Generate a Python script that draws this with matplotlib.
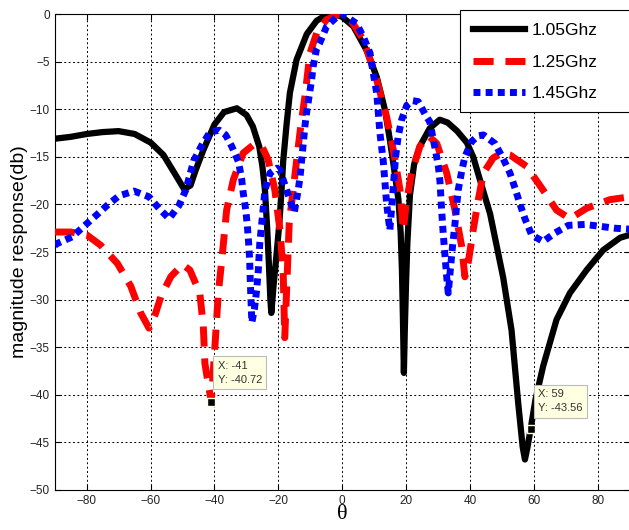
import matplotlib
matplotlib.use("Agg")
import matplotlib.pyplot as plt
from matplotlib.patches import Rectangle

plt.rcParams['font.family'] = ['Liberation Sans', 'DejaVu Sans']

# 1.05 GHz
x105 = [-90, -85, -80, -75, -70, -65, -60, -56, -52, -49.5, -47.5, -46, -43.5, -40, -37, -33, -30, -28,
        -26, -25, -24.2, -23.5, -23, -22.5, -22.2, -21.5, -20.5, -19.7, -19, -18.5, -17.4, -16.4, -14.3,
        -11.1, -8, -5, -2.5, 0, 3.5, 7.6, 10.8, 13.4, 14.9, 16, 17.6, 18.3, 18.7, 19, 19.3, 19.6, 20, 20.4,
        21.2, 22.5, 24.3, 27.4, 30.5, 33, 36, 39, 41, 43.1, 46.3, 50.4, 53, 55.1, 56.5, 57.2, 58, 59, 60.5,
        62.9, 67.1, 71.3, 76.5, 81.7, 87, 90]
y105 = [-13.1, -12.9, -12.6, -12.4, -12.3, -12.6, -13.5, -14.8, -17.0, -18.4, -18.0, -16.5, -14.3, -11.6,
        -10.3, -9.9, -10.6, -11.8, -13.9, -16.0, -18.5, -22.5, -26.0, -30.0, -31.4, -28.5, -25.0, -22.0,
        -18.5, -15.5, -11.5, -8.3, -4.8, -2.1, -0.7, -0.1, 0.0, -0.3, -1.3, -3.8, -6.6, -10.1, -13.2, -15.7,
        -19.5, -23.0, -27.0, -32.0, -37.7, -33.0, -28.0, -24.0, -19.0, -15.8, -13.9, -12.0, -11.1, -11.4,
        -12.3, -13.5, -15.0, -17.4, -21.0, -27.7, -33.2, -40.9, -45.5, -46.8, -45.5, -43.56, -40.5, -37.0,
        -32.1, -29.3, -26.9, -24.8, -23.5, -23.2]

# 1.25 GHz
x125 = [-90, -85, -80, -75.6, -70.4, -66.2, -63.1, -60.5, -58.5, -56.8, -53.7, -50, -47.7, -44.6, -43.5,
        -43, -42, -41, -39.8, -38.8, -37.7, -36.2, -34.1, -31, -27.3, -25, -23.2, -21.1, -19.5, -18.5, -18,
        -17.3, -16.6, -14.5, -13, -11.7, -10.1, -8, -5, -1, 3, 6.6, 10.2, 13.9, 16, 18.1, 19.1, 20, 21.7,
        24.3, 27, 29.6, 32.7, 35.3, 37.4, 38.4, 39.5, 41, 42.6, 44.2, 47.3, 50, 52.5, 57.7, 62.9, 67.1,
        71.3, 76.5, 83.8, 90]
y125 = [-22.9, -22.9, -23.2, -24.3, -26.2, -28.6, -31.4, -33.0, -31.5, -29.7, -27.6, -26.3, -26.9, -29.3,
        -32.8, -36.7, -38.8, -40.72, -34.6, -29.3, -25.8, -20.6, -17.4, -14.6, -13.6, -14.0, -15.3, -18.5,
        -22.7, -27.0, -34.0, -28.0, -22.0, -16.0, -11.8, -8.7, -4.1, -2.0, -0.6, 0.0, -0.8, -2.7, -6.2,
        -10.8, -14.3, -18.5, -22.7, -20.0, -16.7, -13.9, -12.8, -13.6, -16.7, -20.6, -24.4, -27.6, -26.0,
        -22.7, -19.5, -16.7, -15.1, -14.6, -14.8, -16.0, -18.5, -20.6, -21.5, -20.4, -19.5, -19.2]

# 1.45 GHz
x145 = [-90, -89.2, -84.5, -80.9, -77.2, -73.6, -69.9, -65.2, -60.5, -57.4, -54.2, -51.1, -49, -46.5, -44,
        -41.4, -38.5, -36.5, -34.6, -32.5, -31.5, -31, -30.2, -29.7, -29.3, -29, -28.8, -28.3, -27.5, -26.8,
        -26.3, -25.8, -25.2, -24.2, -22.6, -20.5, -19.5, -17.9, -16.4, -15, -13.8, -13.2, -12.7, -12.2,
        -11.7, -11.1, -10.3, -9.6, -9.1, -8, -7, -4.9, -1.7, 0, 1.4, 4.5, 6.6, 8.7, 9.7, 10.8, 11.8, 12.8,
        13.4, 13.9, 14.9, 15.8, 16.7, 17.5, 18.6, 20.2, 22, 23.8, 26.4, 27.4, 29, 30.1, 30.6, 31.1, 31.6,
        32.2, 32.7, 33.2, 33.8, 34.5, 35.3, 36.3, 37.4, 38.4, 40.5, 42.5, 44.2, 47.8, 50.4, 52.5, 54.1,
        55.6, 57.2, 59.3, 62.9, 66.6, 70.8, 76, 80.7, 85.4, 90]
y145 = [-24.3, -24.1, -23.4, -22.3, -21.2, -20.1, -19.1, -18.6, -19.2, -20.4, -21.5, -20.1, -18.5, -15.4,
        -13.8, -12.4, -12.2, -12.7, -13.9, -15.5, -17.3, -18.8, -20.6, -22.3, -24.1, -25.7, -28.0, -32.4,
        -31.0, -29.0, -27.0, -24.0, -22.0, -18.5, -16.7, -16.2, -16.4, -18.0, -19.5, -20.8, -18.5, -17.1,
        -15.3, -13.6, -11.8, -10.2, -8.5, -6.9, -5.5, -3.6, -3.0, -1.3, -0.3, 0.0, -0.3, -1.0, -2.4, -4.1,
        -6.2, -8.3, -12.5, -15.3, -17.8, -19.9, -22.7, -19.0, -15.0, -12.9, -11.1, -9.6, -9.1, -9.2, -10.8,
        -11.3, -14.0, -16.0, -17.6, -20.5, -23.0, -25.5, -27.6, -29.3, -27.0, -24.5, -22.0, -18.5, -16.5,
        -15.0, -13.4, -12.8, -12.7, -13.6, -15.2, -16.7, -18.3, -19.9, -21.5, -23.2, -23.9, -23.0, -22.2,
        -22.1, -22.3, -22.5, -22.6]

labels = ['1.05Ghz', '1.25Ghz', '1.45Ghz']
xticks = [-80, -60, -40, -20, 0, 20, 40, 60, 80]
yticks = [0, -5, -10, -15, -20, -25, -30, -35, -40, -45, -50]

tip1 = (-41, -40.72)
tip2 = (59, -43.56)

W, H = 629, 530
fig = plt.figure(figsize=(W / 100, H / 100), dpi=100)
ax = fig.add_axes([0.0871, 0.0755, 0.914, 0.898])

ax.plot(x105, y105, color='black', lw=4.5, solid_joinstyle='round', label=labels[0], zorder=3)
l2, = ax.plot(x125, y125, color='red', lw=5, label=labels[1], zorder=3, dash_capstyle='butt')
l2.set_dashes((2.9, 1.7))
l3, = ax.plot(x145, y145, color='blue', lw=5, label=labels[2], zorder=3, dash_capstyle='butt')
l3.set_dashes((1.0, 0.75))

ax.set_xlim(-90, 90)
ax.set_ylim(-50, 0)
ax.set_xticks(xticks)
ax.set_yticks(yticks)
ax.tick_params(direction='in', labelsize=8.5, top=True, right=True, length=4,
               colors='black', labelcolor='#222222')
ax.grid(True, color='black', linestyle=(0, (2, 2.5)), linewidth=0.7)
ax.set_axisbelow(True)
for s in ax.spines.values():
    s.set_linewidth(0.8)

ax.set_ylabel('magnitude response(db)', fontsize=14, labelpad=1)
ax.set_xlabel('θ', fontsize=16, family=['Liberation Serif', 'DejaVu Serif'], labelpad=-1)

# legend frame (extends past the right edge of the figure, as in the reference)
frame = Rectangle((460 / W, 1 - 112 / H), 180 / W, 102 / H, transform=fig.transFigure,
                  fc='white', ec='black', lw=0.8, zorder=10, clip_on=False)
ax.add_patch(frame)
leg = ax.legend(loc='upper left', bbox_to_anchor=(465 / W, 1 - 15 / H), bbox_transform=fig.transFigure,
                borderaxespad=0, frameon=False, fontsize=12.5,
                handlelength=3.0, labelspacing=0.95, borderpad=0.45, handletextpad=0.4)
leg.set_zorder(11)

for (tx, ty), (bx, by) in [(tip1, (-39.0, -36.4)), (tip2, (61.3, -39.4))]:
    ax.plot([tx], [ty], marker='s', color='black', markersize=6, markeredgecolor='#ffffe1',
            markeredgewidth=1, zorder=5)
    ax.text(bx, by, 'X: %g\nY: %.2f' % (tx, ty), fontsize=8, va='top', ha='left', zorder=6,
            linespacing=1.55, color='#333333',
            bbox=dict(boxstyle='square,pad=0.4', fc='#ffffe1', ec='#bbbbbb', lw=0.8))

fig.savefig('out.png', dpi=100)
